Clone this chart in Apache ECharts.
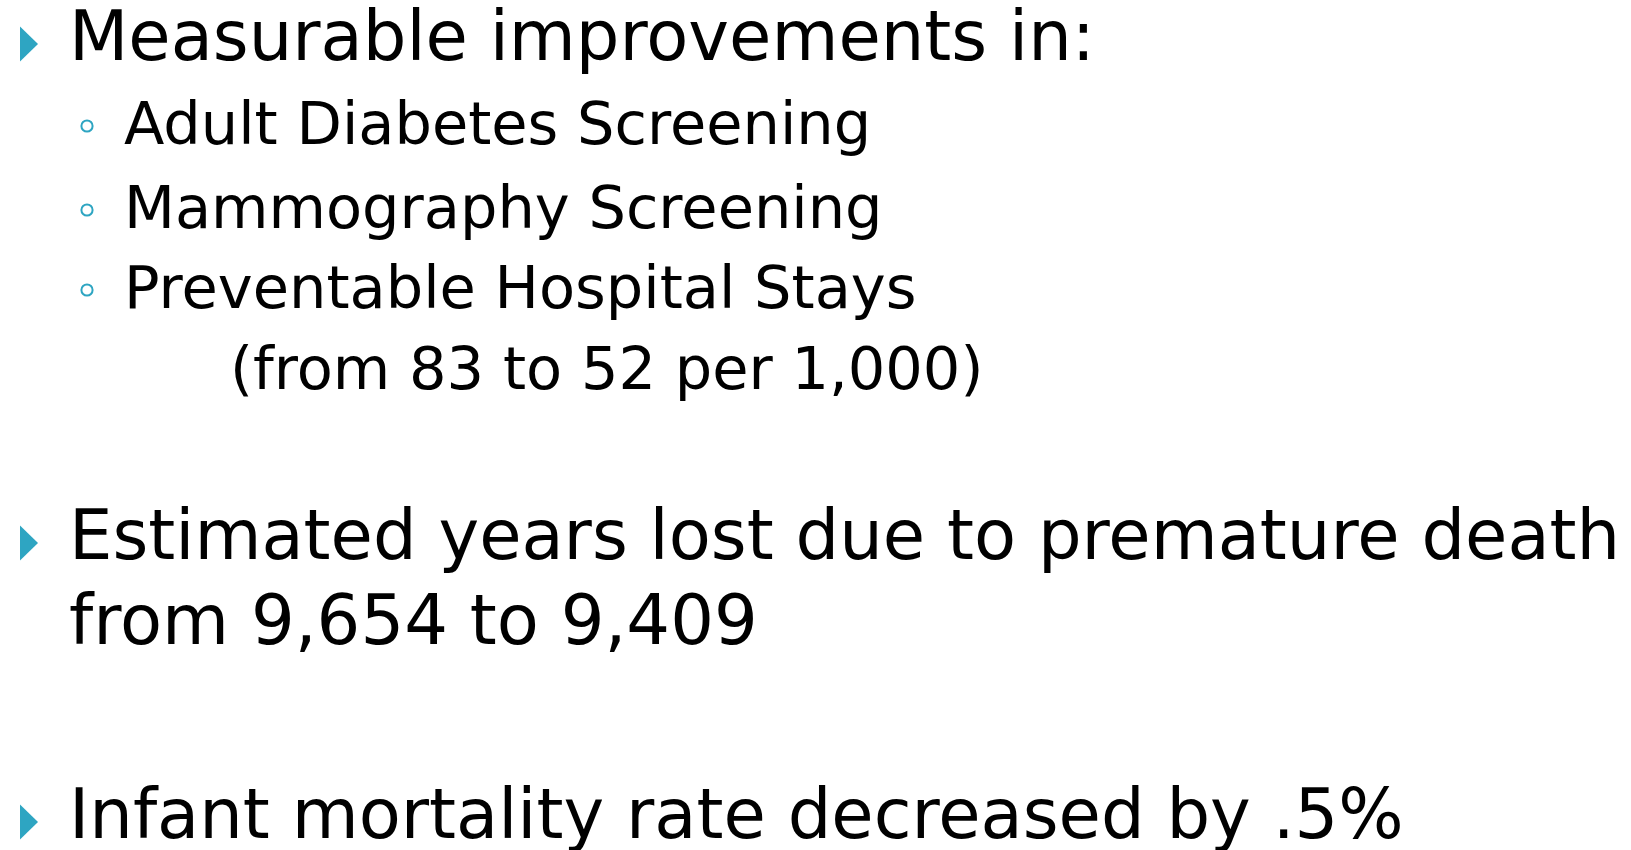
<!DOCTYPE html>
<html>
<head>
<meta charset="utf-8">
<script src="https://cdn.jsdelivr.net/npm/echarts@6/dist/echarts.min.js"></script>
<style>
  html, body { margin: 0; padding: 0; background: #fff; }
  #main { width: 1631px; height: 850px; }
</style>
</head>
<body>
<div id="main"></div>
<script>
// slide text, one entry per line
var lineTexts = [
  'Measurable improvements in:',
  'Adult Diabetes Screening',
  'Mammography Screening',
  'Preventable Hospital Stays',
  '(from 83 to 52 per 1,000)',
  'Estimated years lost due to premature death',
  'from 9,654 to 9,409',
  'Infant mortality rate decreased by .5%'
];
// 1 = main bullet, 2 = sub bullet, 3 = indented note, 0 = wrapped main line
var lineLevels = [1, 2, 2, 2, 3, 1, 0, 1];

// layout: baseline y of each line
var baselines = [62, 146, 230, 310, 391, 561, 646, 840];
var teal = '#2ea5c2';
var font = '"DejaVu Sans", "Noto Sans", sans-serif';
var mainSize = 68.8, subSize = 59;

var chart = echarts.init(document.getElementById('main'), null, { renderer: 'canvas' });

var elements = [];
lineTexts.forEach(function (txt, i) {
  var lv = lineLevels[i];
  var isMain = (lv === 1 || lv === 0);
  var size = isMain ? mainSize : subSize;
  var x = isMain ? 69 : (lv === 2 ? 124 : 230);
  elements.push({
    type: 'text',
    x: x,
    y: baselines[i] - size * 0.295,
    style: {
      text: txt,
      fill: '#000',
      font: 'normal ' + size + 'px ' + font,
      verticalAlign: 'middle',
      align: 'left'
    }
  });
  if (lv === 1) {
    // teal arrow bullet
    var cy = baselines[i] - 18;
    elements.push({
      type: 'polygon',
      shape: { points: [[20, cy - 17.5], [20, cy + 17.5], [38, cy]] },
      style: { fill: teal }
    });
  } else if (lv === 2) {
    // hollow circle bullet
    elements.push({
      type: 'circle',
      shape: { cx: 87, cy: baselines[i] - 20, r: 5.6 },
      style: { fill: 'none', stroke: teal, lineWidth: 2 }
    });
  }
});

chart.setOption({
  backgroundColor: '#fff',
  animation: false,
  graphic: elements
});
</script>
</body>
</html>
